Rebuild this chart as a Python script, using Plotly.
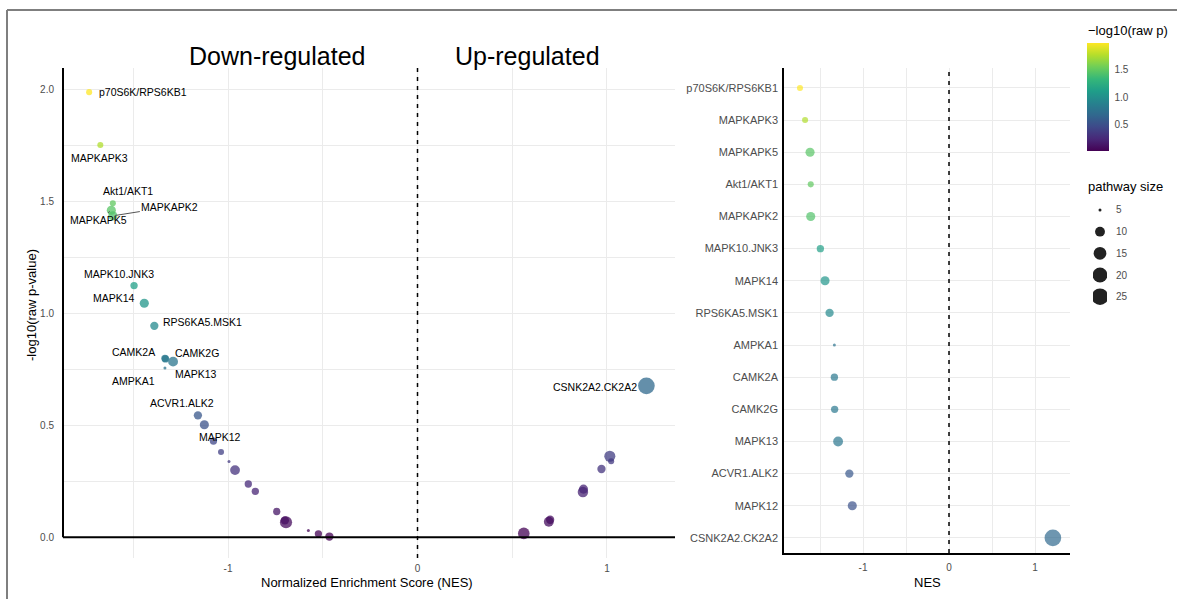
import numpy as np
import plotly.graph_objects as go

# ---------------- data ----------------
# labelled kinases (top 15 by p-value), listed in NES order
kinases = ["p70S6K/RPS6KB1", "MAPKAPK3", "MAPKAPK5", "Akt1/AKT1", "MAPKAPK2",
           "MAPK10.JNK3", "MAPK14", "RPS6KA5.MSK1", "AMPKA1", "CAMK2A",
           "CAMK2G", "MAPK13", "ACVR1.ALK2", "MAPK12", "CSNK2A2.CK2A2"]
kinase_nes = [-1.733, -1.674, -1.616, -1.608, -1.608,
              -1.496, -1.442, -1.389, -1.333, -1.333,
              -1.330, -1.290, -1.159, -1.125, 1.208]
kinase_logp = [1.99, 1.754, 1.462, 1.493, 1.437,
               1.125, 1.046, 0.945, 0.757, 0.800,
               0.797, 0.785, 0.545, 0.503, 0.677]
kinase_size = [6, 6, 9, 6, 9, 7, 9, 8, 5, 7, 7, 10, 8, 9, 25]

# remaining (unlabelled) pathways
other_nes = [-1.077, -1.037, -0.995, -0.963, -0.893, -0.856, -0.743, -0.694,
             -0.700, -0.576, -0.523, -0.465,
             1.015, 1.022, 0.971, 0.873, 0.876, 0.693, 0.700, 0.561]
other_logp = [0.430, 0.381, 0.338, 0.300, 0.238, 0.205, 0.115, 0.067,
              0.075, 0.030, 0.015, 0.003,
              0.362, 0.340, 0.305, 0.202, 0.215, 0.069, 0.078, 0.017]
other_size = [7, 6, 5, 10, 7, 7, 7, 14, 8, 5, 7, 8,
              12, 6, 8, 11, 9, 10, 8, 13]

legend_sizes = [5, 10, 15, 20, 25]
x_ticks = [-1.5, -1, -0.5, 0, 0.5, 1]
x_ticktext = ["", "-1", "", "0", "", "1"]
y_ticks = [0, 0.25, 0.5, 0.75, 1.0, 1.25, 1.5, 1.75, 2.0]
y_ticktext = ["0.0", "", "0.5", "", "1.0", "", "1.5", "", "2.0"]
cbar_ticks = [0.5, 1.0, 1.5]

# ---------------- styles / layout helpers ----------------
W, H = 1177, 599
FONT = "Liberation Sans, Arial, sans-serif"
GRID = "#ebebeb"
TICKC = "#4d4d4d"

S_MIN, S_MAX = 5, 26
D_MIN, D_MAX = 3.0, 17.0


def diam(s):
    s = np.asarray(s, dtype=float)
    return D_MIN + (D_MAX - D_MIN) * np.sqrt(np.clip((s - S_MIN) / (S_MAX - S_MIN), 0, 1))


all_logp = kinase_logp + other_logp
CMIN, CMAX = min(all_logp), max(all_logp)


def px_x(p):
    return p / W


def px_y(p):
    return 1 - p / H


# label offsets (pixels from point) and whether a segment is drawn
label_offsets = {
    "p70S6K/RPS6KB1": (54, 0, False),
    "MAPKAPK3": (-1, 13, False),
    "MAPKAPK5": (-13, 10, True),
    "Akt1/AKT1": (15, -12, False),
    "MAPKAPK2": (57, -9, True),
    "MAPK10.JNK3": (-15, -12, False),
    "MAPK14": (-30, -5, False),
    "RPS6KA5.MSK1": (48, -4, False),
    "AMPKA1": (-31, 13, False),
    "CAMK2A": (-31, -6, False),
    "CAMK2G": (31, -6, False),
    "MAPK13": (23, 12, False),
    "ACVR1.ALK2": (-16, -12, False),
    "MAPK12": (16, 12, False),
    "CSNK2A2.CK2A2": (-51, 1, False),
}

fig = go.Figure()

# left volcano-like panel
left_nes = other_nes + kinase_nes
left_logp = other_logp + kinase_logp
left_size = other_size + kinase_size
fig.add_trace(go.Scatter(
    x=left_nes, y=left_logp, mode="markers", xaxis="x", yaxis="y",
    marker=dict(size=diam(left_size), color=left_logp, colorscale="Viridis",
                cmin=CMIN, cmax=CMAX, opacity=0.75, line=dict(width=0)),
    showlegend=False, hoverinfo="skip"))

# right dot panel
order = sorted(range(len(kinases)), key=lambda i: kinase_nes[i])
r_names = [kinases[i] for i in order]
r_nes = [kinase_nes[i] for i in order]
r_logp = [kinase_logp[i] for i in order]
r_size = [kinase_size[i] for i in order]
fig.add_trace(go.Scatter(
    x=r_nes, y=r_names, mode="markers", xaxis="x2", yaxis="y2",
    marker=dict(size=diam(r_size), color=r_logp, colorscale="Viridis",
                cmin=CMIN, cmax=CMAX, line=dict(width=0), showscale=True,
                colorbar=dict(
                    x=px_x(1087), xanchor="left", y=px_y(43.3), yanchor="top",
                    len=108.4, lenmode="pixels", thickness=21.7, thicknessmode="pixels",
                    xpad=0, ypad=0, outlinewidth=0,
                    tickvals=cbar_ticks, ticktext=["0.5", "1.0", "1.5"],
                    ticks="outside", ticklen=4, tickcolor="rgba(0,0,0,0)",
                    tickfont=dict(size=10, color=TICKC, family=FONT))),
    showlegend=False, hoverinfo="skip"))

# size legend
fig.add_trace(go.Scatter(
    x=[0] * len(legend_sizes), y=legend_sizes, mode="markers", xaxis="x3", yaxis="y3",
    marker=dict(size=diam(legend_sizes), color="#222222", opacity=1, line=dict(width=0)),
    showlegend=False, hoverinfo="skip"))

# ---------------- axes ----------------
L_YR = [-0.093, 2.098]
fig.update_layout(
    width=W, height=H, margin=dict(l=0, r=0, t=0, b=0),
    paper_bgcolor="white", plot_bgcolor="white",
    font=dict(family=FONT, color="black"),
    xaxis=dict(domain=[px_x(63), px_x(675)], range=[-1.871, 1.359], anchor="y",
               tickvals=x_ticks, ticktext=x_ticktext, showgrid=True, gridcolor=GRID,
               gridwidth=1, zeroline=False, showline=False, ticks="",
               ticklabelstandoff=3,
               tickfont=dict(size=10, color=TICKC)),
    yaxis=dict(domain=[px_y(558), px_y(68)], range=L_YR, anchor="x",
               tickvals=y_ticks, ticktext=y_ticktext, showgrid=True, gridcolor=GRID,
               gridwidth=1, zeroline=False, showline=False, ticks="",
               ticklabelstandoff=8,
               tickfont=dict(size=10, color=TICKC)),
    xaxis2=dict(domain=[px_x(784), px_x(1070)], range=[-1.919, 1.407], anchor="y2",
                tickvals=x_ticks, ticktext=x_ticktext, showgrid=True, gridcolor=GRID,
                zeroline=False, showline=True, linecolor="black", linewidth=1.5,
                ticks="", ticklabelstandoff=4,
                tickfont=dict(size=10, color=TICKC)),
    yaxis2=dict(domain=[px_y(553), px_y(68)], range=[14.47, -0.62], anchor="x2",
                type="category", categoryorder="array", categoryarray=r_names,
                showgrid=True, gridcolor=GRID, zeroline=False, showline=True,
                linecolor="black", linewidth=1.5, ticks="", ticklabelstandoff=2,
                tickfont=dict(size=11, color=TICKC)),
    xaxis3=dict(domain=[px_x(1093), px_x(1107)], range=[-1, 1], visible=False,
                anchor="y3", fixedrange=True),
    yaxis3=dict(domain=[px_y(306), px_y(200)], range=[27.14, 2.70], visible=False,
                anchor="x3", fixedrange=True),
)

# ---------------- shapes ----------------
shapes = [
    # dashed zero lines
    dict(type="line", xref="x", yref="y domain", x0=0, x1=0, y0=0, y1=1,
         line=dict(color="black", width=1.5, dash="4px,5px")),
    dict(type="line", xref="x2", yref="y2 domain", x0=0, x1=0, y0=0, y1=1,
         line=dict(color="black", width=1.5, dash="4px,5px")),
    # left panel axis-like lines
    dict(type="line", xref="x domain", yref="y", x0=0, x1=1, y0=0, y1=0,
         line=dict(color="black", width=2)),
    dict(type="line", xref="x domain", yref="y", x0=0, x1=0, y0=0, y1=L_YR[1],
         line=dict(color="black", width=2)),
    # outer frame (top and left)
    dict(type="line", xref="paper", yref="paper", x0=px_x(7), x1=1, y0=px_y(10), y1=px_y(10),
         line=dict(color="#7f7f7f", width=2)),
    dict(type="line", xref="paper", yref="paper", x0=px_x(7), x1=px_x(7), y0=0, y1=px_y(10),
         line=dict(color="#7f7f7f", width=2)),
]
fig.update_layout(shapes=shapes)

# ---------------- annotations ----------------
ann = []
for name, nx, ny in zip(kinases, kinase_nes, kinase_logp):
    ax, ay, seg = label_offsets[name]
    ann.append(dict(x=nx, y=ny, xref="x", yref="y", text=name, showarrow=True,
                    ax=ax, ay=ay, arrowhead=0, arrowwidth=1, standoff=2,
                    arrowcolor="#555555" if seg else "rgba(0,0,0,0)",
                    font=dict(size=10.5, color="black")))


def paper_text(x, y, text, size, xanchor="center", angle=0, color="black"):
    return dict(x=px_x(x), y=px_y(y), xref="paper", yref="paper", text=text,
                xanchor=xanchor, yanchor="middle", textangle=angle, showarrow=False,
                font=dict(size=size, color=color))


ann += [
    paper_text(277.5, 56, "Down-regulated", 25),
    paper_text(527.5, 56, "Up-regulated", 25),
    paper_text(367, 582, "Normalized Enrichment Score (NES)", 13),
    paper_text(927, 582, "NES", 13),
    paper_text(31, 305, "-log10(raw p-value)", 13, angle=-90),
    paper_text(1086, 30, "\u2212log10(raw p)", 13, xanchor="left"),
    paper_text(1086, 187, "pathway size", 13, xanchor="left"),
]
for s in legend_sizes:
    ann.append(dict(x=px_x(1114), y=s, xref="paper", yref="y3", text=str(s),
                    xanchor="left", yanchor="middle", showarrow=False,
                    font=dict(size=10, color=TICKC)))
fig.update_layout(annotations=ann)

fig.write_html("out.html",
               config={"displayModeBar": False},
               post_script="document.body.style.margin='0';"
                           "document.body.style.overflow='hidden';")
